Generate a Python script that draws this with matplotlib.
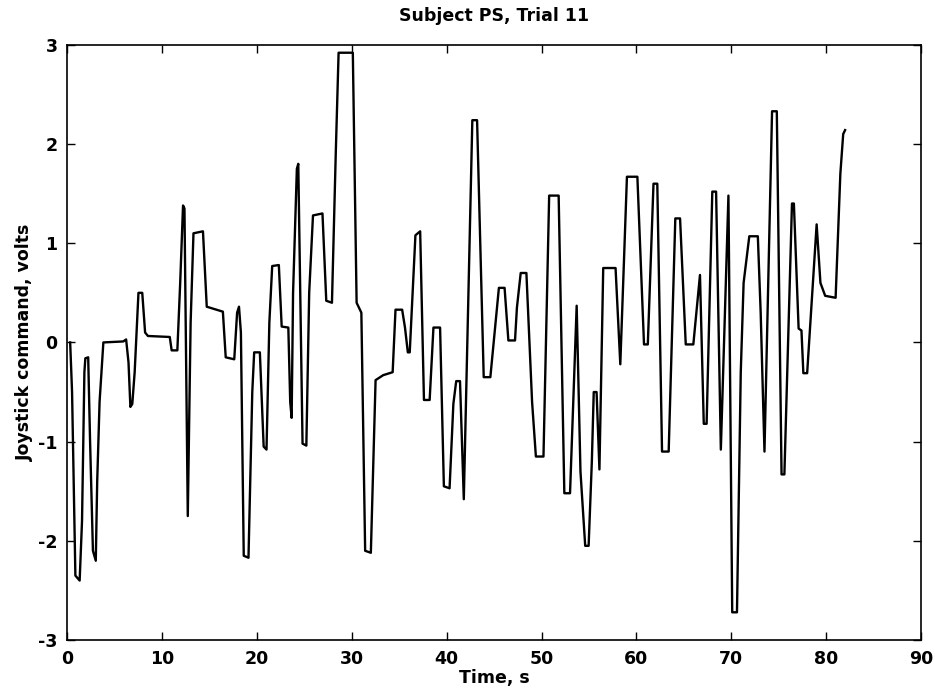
import matplotlib
matplotlib.use('Agg')
import matplotlib.pyplot as plt
import numpy as np

# joystick trace (time in s, command in volts)
t = [0.3, 0.5, 0.85, 1.3, 1.55, 1.8, 1.9, 2.2, 2.4, 2.7, 3.0, 3.15, 3.4, 3.8,
     5.9, 6.2, 6.45, 6.65, 6.85, 7.1, 7.5, 7.9, 8.2, 8.5, 10.8, 11.0, 11.6,
     11.9, 12.2, 12.35, 12.7, 13.0, 13.3, 14.3, 14.7, 16.4, 16.7, 17.6, 17.9,
     18.1, 18.3, 18.6, 19.1, 19.5, 19.7, 20.3, 20.7, 21.0, 21.3, 21.6, 22.3,
     22.6, 23.3, 23.5, 23.65, 23.8, 24.2, 24.35, 24.8, 25.2, 25.5, 25.9, 26.9,
     27.3, 27.9, 28.3, 28.6, 30.1, 30.5, 31.0, 31.4, 32.0, 32.5, 33.3, 34.3,
     34.6, 35.3, 35.6, 35.9, 36.1, 36.7, 37.2, 37.6, 38.2, 38.6, 39.3, 39.7,
     40.3, 40.7, 41.0, 41.4, 41.8, 42.7, 43.2, 43.9, 44.6, 45.5, 46.1, 46.5,
     47.2, 47.4, 47.8, 48.4, 49.0, 49.4, 50.2, 50.8, 51.8, 52.4, 53.0, 53.7,
     54.1, 54.6, 54.96, 55.3, 55.5, 55.8, 56.1, 56.5, 57.8, 58.3, 59.0, 60.1,
     60.8, 61.2, 61.8, 62.2, 62.7, 63.4, 64.1, 64.6, 65.2, 66.0, 66.7, 67.1,
     67.4, 68.0, 68.4, 68.9, 69.7, 70.1, 70.6, 71.0, 71.3, 71.9, 72.8, 73.1,
     73.5, 74.3, 74.8, 75.3, 75.6, 76.4, 76.6, 77.1, 77.4, 77.6, 78.0, 79.0,
     79.4, 79.9, 81.0, 81.5, 81.8, 82.0]
volts = [0.0, -0.5, -2.35, -2.4, -1.8, -0.3, -0.16, -0.15, -1.0, -2.1, -2.2, -1.4, -0.6, 0.0,
         0.01, 0.03, -0.2, -0.65, -0.62, -0.3, 0.5, 0.5, 0.1, 0.065, 0.055, -0.08, -0.08,
         0.6, 1.38, 1.35, -1.75, 0.2, 1.1, 1.12, 0.36, 0.31, -0.15, -0.17, 0.3,
         0.36, 0.1, -2.15, -2.17, -0.5, -0.1, -0.1, -1.05, -1.08, 0.2, 0.77, 0.78,
         0.16, 0.15, -0.6, -0.76, 0.5, 1.75, 1.8, -1.02, -1.04, 0.5, 1.28, 1.3,
         0.42, 0.4, 1.9, 2.92, 2.92, 0.4, 0.3, -2.1, -2.12, -0.38, -0.33, -0.3,
         0.33, 0.33, 0.15, -0.1, -0.1, 1.08, 1.12, -0.58, -0.58, 0.15, 0.15, -1.45,
         -1.47, -0.62, -0.39, -0.39, -1.58, 2.24, 2.24, -0.35, -0.35, 0.55, 0.55, 0.02,
         0.02, 0.35, 0.70, 0.70, -0.6, -1.15, -1.15, 1.48, 1.48, -1.52, -1.52, 0.37,
         -1.3, -2.05, -2.05, -1.2, -0.5, -0.5, -1.28, 0.75, 0.75, -0.22, 1.67, 1.67,
         -0.02, -0.02, 1.6, 1.6, -1.1, -1.1, 1.25, 1.25, -0.02, -0.02, 0.68, -0.82,
         -0.82, 1.52, 1.52, -1.08, 1.48, -2.72, -2.72, -0.3, 0.6, 1.07, 1.07, 0.3,
         -1.1, 2.33, 2.33, -1.33, -1.33, 1.4, 1.4, 0.14, 0.12, -0.31, -0.31, 1.19,
         0.6, 0.47, 0.45, 1.7, 2.1, 2.14]

xticks = np.arange(0, 91, 10)
yticks = np.arange(-3, 4, 1)

# scanned Helvetica looks wide and heavy -> DejaVu Sans bold
plt.rcParams['font.family'] = ['DejaVu Sans']
plt.rcParams['font.size'] = 13
plt.rcParams['font.weight'] = 'bold'

fig = plt.figure(figsize=(9.35, 6.89), dpi=100)
ax = fig.add_axes([0.072, 0.071, 0.913, 0.864])
ax.plot(t, volts, color='black', lw=1.7)

ax.set_xlim(0, 90)
ax.set_ylim(-3, 3)
ax.set_xticks(xticks)
ax.set_yticks(yticks)
ax.set_xticklabels([str(v) for v in xticks])
ax.set_yticklabels([str(v) for v in yticks])
ax.tick_params(direction='in', top=True, right=True, length=6, width=1,
               labelsize=12.5, pad=7)
for s in ax.spines.values():
    s.set_linewidth(1.2)

ax.set_title('Subject PS, Trial 11', fontsize=12.5, fontweight='bold', pad=17)
ax.set_xlabel('Time, s', fontsize=12.5, fontweight='bold', labelpad=1)
ax.set_ylabel('Joystick command, volts', fontsize=12.5, fontweight='bold', labelpad=3)

fig.savefig('out.png', dpi=100)
